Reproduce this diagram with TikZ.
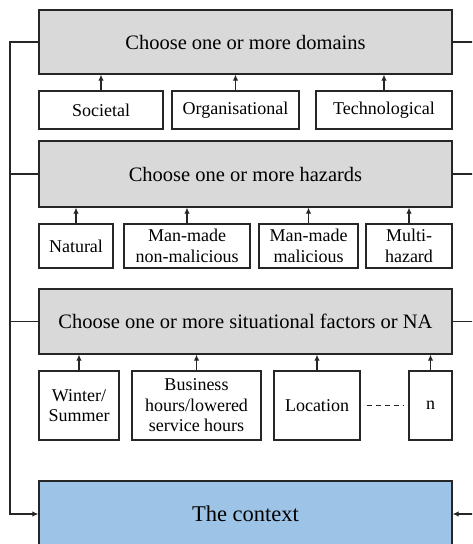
\documentclass[tikz,border=0pt]{standalone}
\usepackage{fontspec}
\setmainfont{Liberation Serif}
\usetikzlibrary{arrows.meta,positioning}
\definecolor{stepgray}{HTML}{D9D9D9}
\definecolor{ctxblue}{HTML}{9DC3E6}

\begin{document}
\begin{tikzpicture}[
  x=1pt, y=-1pt,
  mainbox/.style={draw=black!85, fill=stepgray, line width=1.3pt, minimum width=413pt, minimum height=65pt, inner sep=0pt, font=\fontsize{20.5}{24}\selectfont},
  ctxbox/.style={mainbox, fill=ctxblue, font=\fontsize{22.5}{26}\selectfont},
  optbox/.style={draw=black!85, line width=1.3pt, inner sep=0pt, align=center, font=\fontsize{18}{20.5}\selectfont},
  link/.style={draw=black!85, line width=1.1pt},
  feed/.style={link, -{Latex[length=6pt,width=5.5pt]}}
]
  \useasboundingbox (0,0) rectangle (472,544);
  \clip (0,0) rectangle (472,544);
  % main steps
  \node[mainbox, minimum height=64pt] (dom) at (245.5,42) {Choose one or more domains};
  \node[mainbox, minimum height=66pt] (haz) at (245.5,174) {Choose one or more hazards};
  \node[mainbox] (sit) at (245.5,321.5) {Choose one or more situational factors or NA};
  \node[ctxbox, minimum height=66pt] (ctx) at (245.5,514) {The context};
  % domains
  \node[optbox, minimum width=124pt, minimum height=38pt] (soc) at (101,110) {Societal};
  \node[optbox, minimum width=127pt, minimum height=38pt] (org) at (235.5,110) {Organisational};
  \node[optbox, minimum width=136pt, minimum height=38pt] (tec) at (384,110) {Technological};
  \foreach \opt in {soc,org,tec} {\draw[feed] (\opt.north) -- (\opt.north |- dom.south);}
  % hazards
  \node[optbox, minimum width=74pt, minimum height=44pt] (nat) at (76,246) {Natural};
  \node[optbox, minimum width=126pt, minimum height=44pt] (nonmal) at (187,246) {Man-made\\non-malicious};
  \node[optbox, minimum width=99pt, minimum height=44pt] (mal) at (308.5,246) {Man-made\\malicious};
  \node[optbox, minimum width=86pt, minimum height=44pt] (multi) at (409,246) {Multi-\\hazard};
  \foreach \opt in {nat,nonmal,mal,multi} {\draw[feed] (\opt.north) -- (\opt.north |- haz.south);}
  % situational factors
  \node[optbox, minimum width=80pt, minimum height=69pt] (season) at (79,405.5) {Winter/\\Summer};
  \node[optbox, minimum width=129pt, minimum height=69pt] (hours) at (196.5,405.5) {Business\\hours/lowered\\service hours};
  \node[optbox, minimum width=86pt, minimum height=69pt] (loc) at (317,405.5) {Location};
  \node[optbox, minimum width=43pt, minimum height=69pt] (nth) at (430.5,405.5) {n};
  \foreach \opt in {season,hours,loc,nth} {\draw[feed] (\opt.north) -- (\opt.north |- sit.south);}
  \draw[link, dashed, dash pattern=on 5pt off 4pt, shorten <=6pt, shorten >=5pt] (loc) -- (nth);
  % feedback lines into the context
  \coordinate (lbus) at (10,42);
  \coordinate (rbus) at (482,42);
  \draw[feed] (dom.west) -- (lbus) |- (ctx.west);
  \draw[link] (haz.west) -- (haz.west -| lbus);
  \draw[link] (sit.west) -- (sit.west -| lbus);
  \draw[feed] (dom.east) -- (rbus) |- (ctx.east);
  \draw[link] (haz.east) -- (haz.east -| rbus);
  \draw[link] (sit.east) -- (sit.east -| rbus);
\end{tikzpicture}
\end{document}
